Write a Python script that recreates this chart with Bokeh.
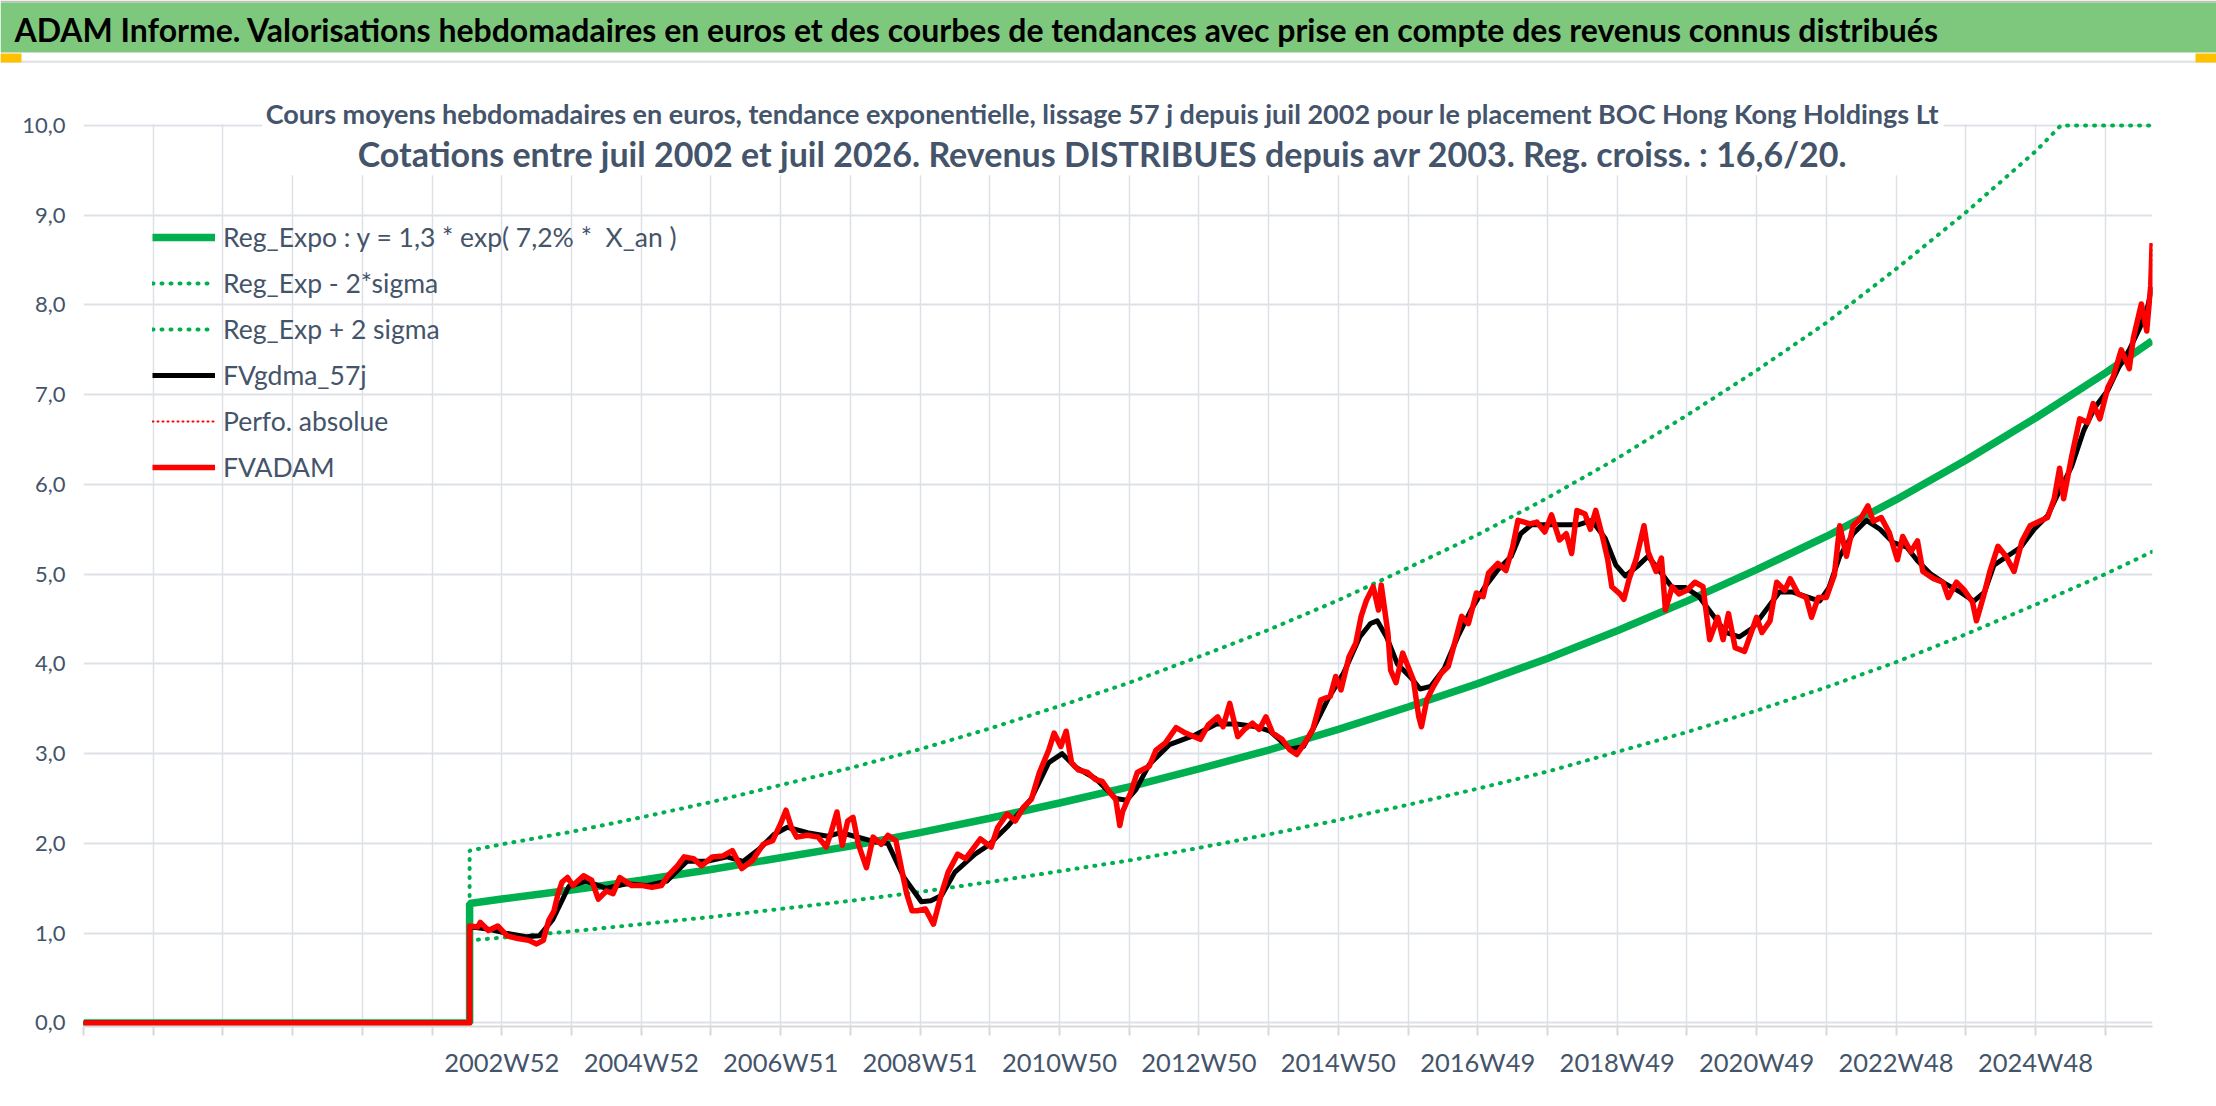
from bokeh.plotting import figure
from bokeh.models import Range1d, FixedTicker, Label, BoxAnnotation, Legend, LegendItem
from bokeh.embed import file_html
from bokeh.resources import INLINE

# ---------------- data (week index from left edge of the category axis) ----------------
GRID_WEEKS = list(range(0, 1509, 52))
LABEL_WEEKS = [312, 416, 520, 624, 728, 832, 936, 1040, 1144, 1248, 1352, 1456]
LABEL_TEXTS = ["2002W52", "2004W52", "2006W51", "2008W51", "2010W50", "2012W50",
               "2014W50", "2016W49", "2018W49", "2020W49", "2022W48", "2024W48"]
Y_TICKS = [0, 1, 2, 3, 4, 5, 6, 7, 8, 9, 10]
Y_LABELS = ["0,0", "1,0", "2,0", "3,0", "4,0", "5,0", "6,0", "7,0", "8,0", "9,0", "10,0"]

TREND_WEEKS = [0, 288, 288, 312, 364, 416, 468, 520, 572, 624, 676, 728, 780, 832, 884,
               936, 988, 1040, 1092, 1144, 1196, 1248, 1300, 1352, 1404, 1456, 1508, 1543]
TREND_VALUES = [0.0, 0.0, 1.33, 1.38, 1.48, 1.59, 1.71, 1.84, 1.97, 2.12, 2.28, 2.45, 2.63, 2.83, 3.04,
                3.27, 3.52, 3.78, 4.06, 4.37, 4.70, 5.05, 5.42, 5.83, 6.27, 6.74, 7.24, 7.60]
LOWER_VALUES = [0.0, 0.0, 0.92, 0.95, 1.02, 1.10, 1.18, 1.27, 1.36, 1.46, 1.57, 1.69, 1.81, 1.95, 2.10,
                2.26, 2.43, 2.61, 2.80, 3.02, 3.24, 3.48, 3.74, 4.02, 4.33, 4.66, 5.00, 5.25]
UPPER_WEEKS = [0, 288, 288, 312, 364, 416, 468, 520, 572, 624, 676, 728, 780, 832, 884,
               936, 988, 1040, 1092, 1144, 1196, 1248, 1300, 1352, 1404, 1456, 1475, 1508, 1543]
UPPER_VALUES = [0.0, 0.0, 1.92, 1.99, 2.13, 2.29, 2.46, 2.65, 2.84, 3.05, 3.28, 3.53, 3.79, 4.08, 4.38,
                4.71, 5.07, 5.44, 5.85, 6.29, 6.77, 7.27, 7.80, 8.40, 9.03, 9.71, 10.0, 10.0, 10.0]

FVADAM_WEEKS = [0, 288, 288, 294, 296, 302, 309, 316, 324, 332,
                338, 343, 347, 351, 354, 357, 361, 365, 373, 379,
                384, 390, 395, 400, 409, 417, 424, 431, 436, 443,
                448, 455, 461, 469, 477, 484, 491, 499, 507, 514,
                520, 524, 528, 532, 540, 548, 554, 558, 562, 566,
                570, 574, 578, 584, 589, 595, 600, 606, 610, 614,
                618, 622, 628, 634, 640, 645, 652, 658, 669, 677,
                682, 689, 695, 701, 707, 713, 720, 724, 729, 733,
                737, 742, 749, 755, 760, 766, 770, 773, 775, 781,
                786, 795, 800, 807, 815, 822, 833, 839, 846, 850,
                855, 861, 866, 872, 877, 882, 887, 894, 900, 905,
                911, 917, 923, 930, 934, 938, 944, 949, 953, 957,
                962, 966, 968, 973, 975, 979, 984, 988, 992, 996,
                998, 1002, 1007, 1013, 1018, 1022, 1028, 1033, 1039, 1044,
                1048, 1055, 1061, 1066, 1070, 1079, 1084, 1090, 1095, 1101,
                1106, 1110, 1114, 1120, 1124, 1128, 1133, 1137, 1140, 1146,
                1149, 1153, 1158, 1164, 1167, 1173, 1177, 1180, 1185, 1190,
                1196, 1202, 1208, 1213, 1219, 1223, 1227, 1232, 1239, 1244,
                1248, 1252, 1258, 1263, 1269, 1273, 1279, 1285, 1289, 1294,
                1300, 1306, 1310, 1315, 1320, 1326, 1331, 1335, 1341, 1347,
                1353, 1357, 1363, 1368, 1372, 1380, 1387, 1391, 1397, 1403,
                1409, 1412, 1417, 1422, 1428, 1434, 1440, 1446, 1452, 1459,
                1465, 1470, 1474, 1477, 1483, 1489, 1495, 1499, 1504, 1510,
                1514, 1520, 1526, 1529, 1535, 1539, 1542, 1543]
FVADAM_VALUES = [0.0, 0.0, 1.08, 1.07, 1.12, 1.03, 1.08, 0.97, 0.94, 0.92,
                 0.88, 0.92, 1.14, 1.25, 1.44, 1.57, 1.62, 1.53, 1.64, 1.59,
                 1.38, 1.47, 1.44, 1.62, 1.53, 1.53, 1.51, 1.53, 1.64, 1.75,
                 1.85, 1.83, 1.75, 1.85, 1.86, 1.92, 1.72, 1.81, 1.99, 2.03,
                 2.22, 2.37, 2.18, 2.07, 2.09, 2.07, 1.96, 2.14, 2.35, 1.98,
                 2.25, 2.29, 1.99, 1.73, 2.07, 1.99, 2.09, 2.03, 1.73, 1.44,
                 1.25, 1.25, 1.27, 1.10, 1.44, 1.68, 1.88, 1.83, 2.05, 1.96,
                 2.18, 2.33, 2.25, 2.40, 2.49, 2.79, 3.04, 3.23, 3.08, 3.25,
                 2.90, 2.82, 2.79, 2.71, 2.69, 2.56, 2.49, 2.20, 2.35, 2.56,
                 2.79, 2.86, 3.04, 3.12, 3.29, 3.23, 3.16, 3.32, 3.41, 3.30,
                 3.56, 3.19, 3.27, 3.34, 3.27, 3.41, 3.23, 3.16, 3.04, 2.99,
                 3.12, 3.27, 3.60, 3.64, 3.86, 3.71, 4.08, 4.23, 4.53, 4.71,
                 4.86, 4.60, 4.88, 4.34, 3.93, 3.79, 4.12, 3.97, 3.82, 3.41,
                 3.30, 3.60, 3.75, 3.90, 3.97, 4.19, 4.53, 4.45, 4.79, 4.75,
                 5.01, 5.12, 5.04, 5.30, 5.60, 5.56, 5.58, 5.47, 5.66, 5.38,
                 5.45, 5.23, 5.71, 5.67, 5.50, 5.71, 5.42, 5.16, 4.86, 4.78,
                 4.72, 4.95, 5.16, 5.54, 5.25, 5.03, 5.18, 4.60, 4.86, 4.78,
                 4.82, 4.91, 4.86, 4.27, 4.52, 4.27, 4.56, 4.18, 4.14, 4.35,
                 4.52, 4.35, 4.48, 4.91, 4.82, 4.95, 4.78, 4.74, 4.52, 4.74,
                 4.74, 4.99, 5.54, 5.20, 5.54, 5.63, 5.76, 5.59, 5.63, 5.46,
                 5.16, 5.42, 5.25, 5.37, 5.03, 4.95, 4.91, 4.74, 4.91, 4.82,
                 4.69, 4.48, 4.74, 5.03, 5.31, 5.20, 5.03, 5.37, 5.54, 5.59,
                 5.63, 5.84, 6.18, 5.84, 6.31, 6.73, 6.69, 6.90, 6.73, 7.08,
                 7.20, 7.50, 7.29, 7.63, 8.01, 7.71, 8.22, 8.69]

FVGDMA_WEEKS = [0, 288, 288, 300, 315, 330, 340, 350, 362, 375,
                390, 405, 420, 435, 450, 465, 480, 492, 505, 515,
                525, 540, 555, 565, 575, 590, 600, 612, 625, 632,
                640, 650, 665, 675, 690, 707, 720, 730, 740, 755,
                770, 778, 785, 795, 810, 828, 845, 860, 875, 885,
                900, 910, 918, 928, 940, 952, 960, 965, 972, 980,
                990, 997, 1005, 1015, 1025, 1035, 1045, 1055, 1065, 1072,
                1080, 1100, 1115, 1125, 1135, 1143, 1150, 1160, 1167, 1175,
                1185, 1195, 1205, 1215, 1225, 1235, 1245, 1255, 1265, 1275,
                1285, 1295, 1302, 1310, 1320, 1330, 1340, 1350, 1360, 1368,
                1378, 1388, 1400, 1410, 1418, 1425, 1435, 1445, 1455, 1465,
                1473, 1483, 1492, 1500, 1510, 1518, 1526, 1534, 1540, 1543]
FVGDMA_VALUES = [0.0, 0.0, 1.07, 1.05, 1.00, 0.96, 0.97, 1.15, 1.52, 1.58,
                 1.50, 1.55, 1.53, 1.58, 1.80, 1.80, 1.85, 1.80, 1.95, 2.10,
                 2.18, 2.12, 2.08, 2.12, 2.08, 2.02, 2.00, 1.62, 1.35, 1.36,
                 1.42, 1.68, 1.88, 1.98, 2.20, 2.50, 2.90, 3.00, 2.85, 2.72,
                 2.50, 2.48, 2.60, 2.88, 3.10, 3.20, 3.33, 3.33, 3.30, 3.25,
                 3.05, 3.08, 3.30, 3.60, 3.90, 4.30, 4.45, 4.48, 4.30, 4.00,
                 3.85, 3.72, 3.75, 3.95, 4.30, 4.60, 4.85, 5.05, 5.20, 5.45,
                 5.55, 5.55, 5.55, 5.60, 5.40, 5.10, 4.98, 5.10, 5.20, 5.05,
                 4.85, 4.85, 4.75, 4.55, 4.35, 4.30, 4.40, 4.60, 4.80, 4.80,
                 4.75, 4.70, 4.85, 5.20, 5.45, 5.60, 5.50, 5.35, 5.30, 5.15,
                 5.00, 4.90, 4.80, 4.70, 4.80, 5.10, 5.20, 5.30, 5.50, 5.65,
                 5.90, 6.20, 6.60, 6.85, 7.05, 7.30, 7.50, 7.75, 8.00, 8.20]

BANNER_TEXT = ("ADAM Informe. Valorisations hebdomadaires en euros et des courbes de tendances "
               "avec prise en compte des revenus connus distribués")
TITLE_1 = ("Cours moyens hebdomadaires en euros, tendance exponentielle, lissage 57 j depuis juil 2002 "
           "pour le placement BOC Hong Kong Holdings Lt")
TITLE_2 = ("Cotations entre juil 2002 et juil 2026. Revenus DISTRIBUES depuis avr 2003. "
           "Reg. croiss. : 16,6/20.")
LEGEND_LABELS = ["Reg_Expo : y = 1,3 * exp( 7,2% *  X_an )", "Reg_Exp - 2*sigma",
                 "Reg_Exp + 2 sigma", "FVgdma_57j", "Perfo. absolue", "FVADAM"]

# ---------------- styling ----------------
FONT = "Lato"
TXT = "#44546A"
GRID = "#DDE1E7"
GREEN = "#00B050"
PAGE_W = 2216


def screen_box(fig, left, right, bottom, top, color, level="annotation"):
    fig.add_layout(BoxAnnotation(left=left, right=right, bottom=bottom, top=top,
                                 left_units="screen", right_units="screen",
                                 top_units="screen", bottom_units="screen",
                                 fill_color=color, fill_alpha=1.0, line_color=None, level=level))


# ---- banner (separate root, full-width frame) ----
banner = figure(width=PAGE_W, height=63, x_range=Range1d(0, 1), y_range=Range1d(0, 1),
                toolbar_location=None, output_backend="svg", min_border=0,
                x_axis_location=None, y_axis_location=None)
banner.grid.visible = False
banner.background_fill_color = "white"
banner.border_fill_color = "white"
banner.outline_line_color = None
screen_box(banner, 0, PAGE_W, 61, 63, "#BFBFBF")
screen_box(banner, 0, PAGE_W, 11, 61, "#7EC87E")
screen_box(banner, 0, PAGE_W, 0, 3, "#E4E6EA")
screen_box(banner, 0, 21, 1, 10, "#FFC000")
screen_box(banner, PAGE_W - 21, PAGE_W, 1, 10, "#FFC000")
banner.add_layout(Label(x=14, y=34, x_units="screen", y_units="screen", text=BANNER_TEXT,
                        text_font=FONT, text_font_size="32px", text_font_style="bold",
                        text_color="black", text_baseline="middle"))

# ---- main chart ----
p = figure(width=PAGE_W, height=1040, x_range=Range1d(0, 1543.3), y_range=Range1d(-0.04, 10.4),
           toolbar_location=None, output_backend="svg",
           min_border_left=83, min_border_right=64, min_border_top=26, min_border_bottom=77)
p.outline_line_color = None

p.yaxis.ticker = FixedTicker(ticks=Y_TICKS)
p.yaxis.major_label_overrides = dict(zip(Y_TICKS, Y_LABELS))
p.yaxis.axis_line_color = None
p.yaxis.major_tick_line_color = None
p.yaxis.minor_tick_line_color = None
p.yaxis.major_label_standoff = 12
p.yaxis.major_label_text_font = FONT
p.yaxis.major_label_text_font_size = "22px"
p.yaxis.major_label_text_color = TXT

xover = {w: "" for w in GRID_WEEKS}
xover.update(dict(zip(LABEL_WEEKS, LABEL_TEXTS)))
p.xaxis.ticker = FixedTicker(ticks=GRID_WEEKS)
p.xaxis.major_label_overrides = xover
p.xaxis.axis_line_color = "#D9D9D9"
p.xaxis.axis_line_width = 2
p.xaxis.major_tick_line_color = "#D9D9D9"
p.xaxis.major_tick_line_width = 2
p.xaxis.major_tick_out = 9
p.xaxis.major_tick_in = 0
p.xaxis.minor_tick_line_color = None
p.xaxis.major_label_standoff = 11
p.xaxis.major_label_text_font = FONT
p.xaxis.major_label_text_font_size = "25.5px"
p.xaxis.major_label_text_color = TXT

p.xgrid.grid_line_color = GRID
p.xgrid.grid_line_width = 1.5
p.ygrid.grid_line_color = GRID
p.ygrid.grid_line_width = 2

# white cover: no gridlines above the 10,0 line, and behind the chart title
p.add_layout(BoxAnnotation(bottom=10.012, fill_color="white", fill_alpha=1.0,
                           line_color=None, level="underlay"))
screen_box(p, 178.6, 1860.6, 851.3, 934, "white", level="underlay")

r_trend = p.line(TREND_WEEKS, TREND_VALUES, line_color=GREEN, line_width=7.5)
r_low = p.line(TREND_WEEKS, LOWER_VALUES, line_color=GREEN, line_width=4, line_dash="1 8", line_cap="round")
r_up = p.line(UPPER_WEEKS, UPPER_VALUES, line_color=GREEN, line_width=4, line_dash="1 8", line_cap="round")
r_gdma = p.line(FVGDMA_WEEKS, FVGDMA_VALUES, line_color="black", line_width=5, line_join="round")
r_perf = p.line(FVADAM_WEEKS, FVADAM_VALUES, line_color="#FF0000", line_width=2, line_dash="1 4", line_cap="round")
r_fv = p.line(FVADAM_WEEKS, FVADAM_VALUES, line_color="#FF0000", line_width=5.5, line_join="round")

legend = Legend(items=[LegendItem(label=t, renderers=[r]) for t, r in
                       zip(LEGEND_LABELS, [r_trend, r_low, r_up, r_gdma, r_perf, r_fv])],
                location=(69, 536), glyph_width=63, glyph_height=46, label_height=46,
                spacing=0, padding=0, margin=0, label_standoff=8,
                background_fill_alpha=0, border_line_alpha=0,
                label_text_font=FONT, label_text_font_size="26.5px", label_text_color=TXT)
p.add_layout(legend)

p.add_layout(Label(x=1019, y=913, x_units="screen", y_units="screen", text=TITLE_1,
                   text_align="center", text_baseline="middle", text_font=FONT,
                   text_font_size="27px", text_font_style="bold", text_color=TXT))
p.add_layout(Label(x=1019, y=873, x_units="screen", y_units="screen", text=TITLE_2,
                   text_align="center", text_baseline="middle", text_font=FONT,
                   text_font_size="34px", text_font_style="bold", text_color=TXT))

open("out.html", "w").write(file_html([banner, p], INLINE))
